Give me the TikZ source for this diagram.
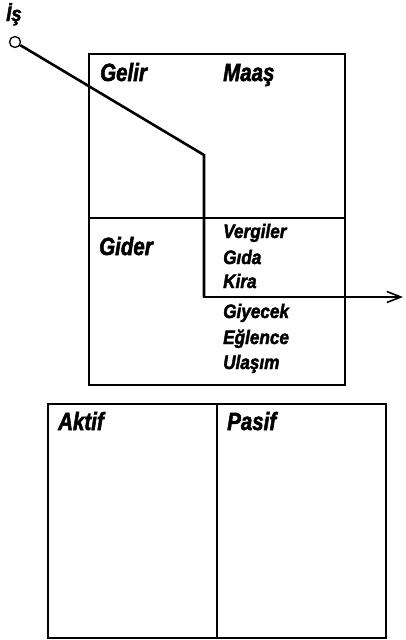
\documentclass[tikz,border=0pt]{standalone}
\usepackage{fontspec}
\setmainfont{Liberation Sans}
\newfontfamily\hfont{Liberation Sans}[FakeStretch=0.82,BoldItalicFeatures={FakeBold=2}]
\newfontfamily\ifont{Liberation Sans}[FakeStretch=0.88,BoldItalicFeatures={FakeBold=2}]
\usetikzlibrary{arrows.meta}
\begin{document}
\begin{tikzpicture}[x=1pt,y=-1pt,
  box/.style={line width=1.6pt},
  flow/.style={line width=2.6pt},
  head/.style={anchor=base west,inner sep=0pt,font=\hfont\fontsize{25}{25}\selectfont\bfseries\itshape},
  item/.style={anchor=base west,inner sep=0pt,font=\ifont\fontsize{19.5}{19.5}\selectfont\bfseries\itshape}]
\useasboundingbox (0,0) rectangle (405,640);
% top box
\draw[box] (89,54) rectangle (345,385);
\draw[box] (89,218) -- (345,218);
% bottom box
\draw[box] (48,404) rectangle (386,638);
\draw[box] (217,404) -- (217,638);
% labels
\node[item,font=\ifont\fontsize{21}{21}\selectfont\bfseries\itshape] (is) at (6,21) {İş};
\node[head] (gelir) at (100,81) {Gelir};
\node[head] (maas) at (223,81) {Maaş};
\node[head] (gider) at (99,255) {Gider};
\node[head] (aktif) at (58,430) {Aktif};
\node[head] (pasif) at (227,430) {Pasif};
\node[item] (vergiler) at (223,238) {Vergiler};
\node[item] (gida) at (223,264) {Gıda};
\node[item] (kira) at (223,288) {Kira};
\node[item] (giyecek) at (223,318) {Giyecek};
\node[item] (eglence) at (223,344) {Eğlence};
\node[item] (ulasim) at (223,369) {Ulaşım};
% flow path
\node[circle,draw,line width=1.3pt,minimum size=11pt,inner sep=0pt] (start) at (15,42) {};
\coordinate (bend1) at (204,155);
\coordinate (bend2) at (204,297);
\coordinate (out) at (403,297);
\draw[flow,line join=miter] (start) -- (bend1) -- (bend2);
\draw[line width=2pt,-{Straight Barb[length=14pt,width=11pt,line width=1.6pt]}] (bend2.center) ++(-1.3,0) -- (out);
\end{tikzpicture}
\end{document}
